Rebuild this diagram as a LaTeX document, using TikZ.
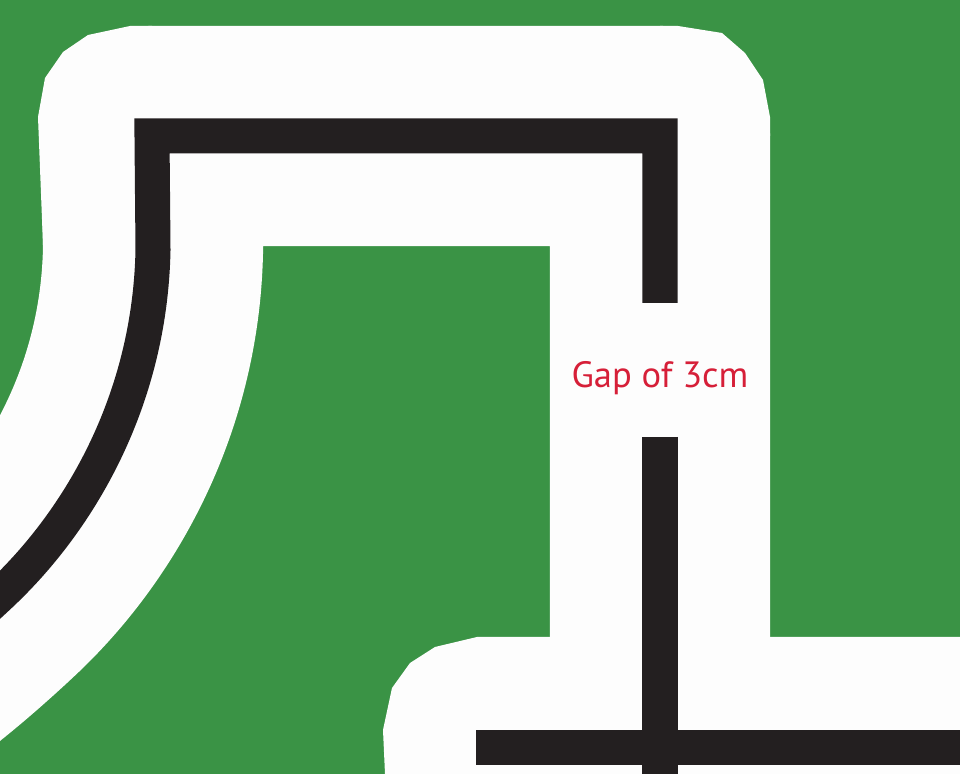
\documentclass[tikz,border=0pt]{standalone}
\usepackage{fontspec}
\setmainfont{PT Sans}
\usepackage{xcolor}

\definecolor{grass}{RGB}{58,147,69}
\definecolor{board}{RGB}{253,253,253}
\definecolor{tapeblack}{RGB}{35,31,32}
\definecolor{notered}{RGB}{214,31,56}

\begin{document}
\begin{tikzpicture}[x=0.01cm, y=-0.01cm]
        \tikzstyle{track} = [draw=board, line width=2.2cm, line join=round]
        \tikzstyle{trackcorner} = [fill=board]
        \tikzstyle{tape} = [draw=tapeblack, line width=0.35cm, line join=miter]
        \tikzstyle{gaptext} = [text=notered, font=\fontsize{10.4}{12}\selectfont, anchor=base, inner sep=0pt]

        \useasboundingbox (0,0) rectangle (960,774);
        \clip (0,0) rectangle (960,774);
        \fill [grass] (0,0) rectangle (960,774);

        \coordinate (sw) at (-200,740);
        \coordinate (nw) at (152,136);
        \coordinate (ne) at (660,136);

        % white track
        \path [track] (sw) .. controls (-140,710) and (-80,670) .. (0,595) .. controls (80,520) and (150,400) .. (153,250) -- (nw) -- (ne) -- (660,800);
        \path [trackcorner] (153,262) -- (nw) -- (152,26) -- (130,26) -- (88,35) -- (63,52) -- (45,78) -- (38,117) -- (43.2,250) -- (43.4,262) -- cycle;
        \path [trackcorner] (ne) -- (660,26) -- (678,26) -- (722,33) -- (745,53) -- (763,80) -- (770,117) -- (770,136) -- cycle;
        \path [trackcorner] (960,637) -- (477,637) -- (435,647) -- (410,663) -- (392,688) -- (383,730) -- (385,774) -- (960,774) -- cycle;

        % black line with the gap
        \path [tape] (sw) .. controls (-140,710) and (-80,670) .. (0,595) .. controls (80,520) and (150,400) .. (153,250) -- (nw) -- (ne) -- (660,303);
        \path [tape] (660,437) -- (660,774);
        \path [tape] (476,747.5) -- (960,747.5);

        \node [gaptext] (gap) at (660,388) {Gap of 3cm};
    \end{tikzpicture}
\end{document}
